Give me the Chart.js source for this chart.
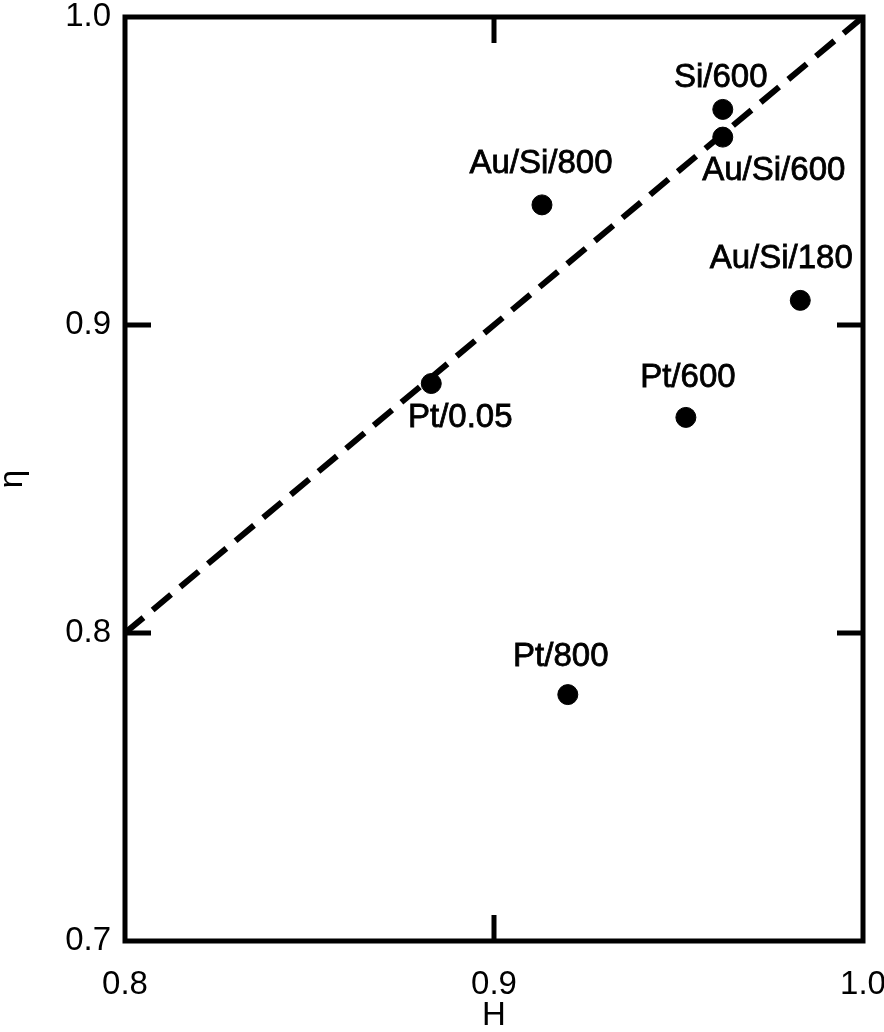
<!DOCTYPE html>
<html>
<head>
<meta charset="utf-8">
<script src="https://cdn.jsdelivr.net/npm/chart.js@4/dist/chart.umd.min.js"></script>
<style>
  html, body { margin: 0; padding: 0; background: #fff; }
  #wrap { width: 884px; height: 1032px; }
</style>
</head>
<body>
<div id="wrap"><canvas id="scatterChart" width="884" height="1032"></canvas></div>
<script>
// samples
const sampleNames = ['Si/600', 'Au/Si/600', 'Au/Si/800', 'Au/Si/180', 'Pt/0.05', 'Pt/600', 'Pt/800'];
const hValues = [0.962, 0.962, 0.913, 0.983, 0.883, 0.952, 0.920];
const etaValues = [0.970, 0.961, 0.939, 0.908, 0.881, 0.870, 0.780];

// dashed reference line eta = H
const lineH = [0.8, 1.0];
const lineEta = [0.8, 1.0];

const xTicks = [0.8, 0.9, 1.0];
const yTicks = [0.7, 0.8, 0.9, 1.0];

// where each label sits relative to its dot (px)
const labelOffsets = [[-2, -31], [51, 34], [-1, -41], [-19, -41], [29, 34], [2, -39], [-7, -38]];

const FONT = '"Liberation Sans", Arial, Helvetica, sans-serif';

// frame, inward ticks and point labels
const framePlugin = {
    id: 'frame',
    afterDatasetsDraw(chart) {
        const { ctx, chartArea: a, scales } = chart;
        ctx.save();
        ctx.strokeStyle = '#000';
        ctx.lineWidth = 5;
        ctx.lineCap = 'butt';
        ctx.strokeRect(a.left, a.top, a.right - a.left, a.bottom - a.top);

        const len = 26;
        ctx.beginPath();
        xTicks.slice(1, -1).forEach(v => {
            const px = scales.x.getPixelForValue(v);
            ctx.moveTo(px, a.bottom); ctx.lineTo(px, a.bottom - len);
            ctx.moveTo(px, a.top); ctx.lineTo(px, a.top + len);
        });
        yTicks.slice(1, -1).forEach(v => {
            const py = scales.y.getPixelForValue(v);
            ctx.moveTo(a.left, py); ctx.lineTo(a.left + len, py);
            ctx.moveTo(a.right, py); ctx.lineTo(a.right - len, py);
        });
        ctx.stroke();

        ctx.fillStyle = '#000';
        ctx.lineWidth = 0.8;
        ctx.font = '33px ' + FONT;
        ctx.textAlign = 'center';
        ctx.textBaseline = 'middle';
        const meta = chart.getDatasetMeta(1);
        meta.data.forEach((pt, i) => {
            const off = labelOffsets[i];
            ctx.fillText(sampleNames[i], pt.x + off[0], pt.y + off[1]);
            ctx.strokeText(sampleNames[i], pt.x + off[0], pt.y + off[1]);
        });
        ctx.restore();
    }
};

new Chart(document.getElementById('scatterChart'), {
    type: 'scatter',
    data: {
        datasets: [
            {
                type: 'line',
                label: 'eta = H',
                data: lineH.map((h, i) => ({ x: h, y: lineEta[i] })),
                borderColor: '#000',
                borderWidth: 6,
                borderDash: [24, 12],
                pointRadius: 0,
                fill: false
            },
            {
                label: 'samples',
                data: hValues.map((h, i) => ({ x: h, y: etaValues[i] })),
                backgroundColor: '#000',
                borderColor: '#000',
                pointRadius: 10,
                pointHoverRadius: 10
            }
        ]
    },
    options: {
        responsive: false,
        animation: false,
        layout: { padding: { top: 17, right: 21, left: 0, bottom: 0 } },
        plugins: {
            legend: { display: false },
            tooltip: { enabled: false }
        },
        scales: {
            x: {
                type: 'linear',
                min: 0.8,
                max: 1.0,
                afterBuildTicks: s => { s.ticks = xTicks.map(v => ({ value: v })); },
                afterFit: s => {
                    s.height = 91;
                    s.paddingLeft = 0;
                    s.paddingRight = 0;
                },
                grid: { display: false },
                border: { display: false },
                ticks: {
                    color: '#000',
                    padding: 19,
                    font: { family: FONT, size: 33, lineHeight: 1 },
                    maxRotation: 0,
                    callback: v => v.toFixed(1)
                },
                title: {
                    display: true,
                    text: 'H',
                    color: '#000',
                    font: { family: FONT, size: 33, lineHeight: 1 },
                    padding: { top: 0, bottom: 0 }
                }
            },
            y: {
                type: 'linear',
                min: 0.7,
                max: 1.0,
                afterBuildTicks: s => { s.ticks = yTicks.map(v => ({ value: v })); },
                afterFit: s => {
                    s.width = 125;
                    s.paddingTop = 0;
                    s.paddingBottom = 0;
                },
                grid: { display: false },
                border: { display: false },
                ticks: {
                    color: '#000',
                    padding: 6,
                    font: { family: FONT, size: 33, lineHeight: 1 },
                    callback: v => v.toFixed(1)
                },
                title: {
                    display: true,
                    text: 'η',
                    color: '#000',
                    font: { family: FONT, size: 33, lineHeight: 1 },
                    padding: { top: -4, bottom: 0 }
                }
            }
        }
    },
    plugins: [framePlugin]
});
</script>
</body>
</html>
